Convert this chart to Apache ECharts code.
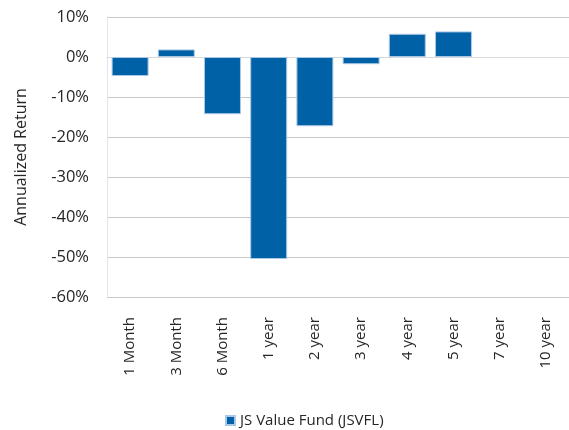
<!DOCTYPE html>
<html lang="en">
<head>
    <meta charset="UTF-8">
    <title>JS Value Fund annualized return</title>
    <script src="https://cdn.jsdelivr.net/npm/echarts@6/dist/echarts.min.js"></script>
    <style>
        html, body { margin: 0; padding: 0; background: #fff; }
        #main { width: 569px; height: 430px; }
    </style>
</head>
<body>
<div id="main"></div>
<script>
var periods = ['1 Month', '3 Month', '6 Month', '1 year', '2 year', '3 year', '4 year', '5 year', '7 year', '10 year'];
// 7 year and 10 year have no return yet, nothing is drawn for them
var fundReturns = [-4.75, 1.9, -14.3, -50.5, -17.3, -1.8, 5.8, 6.4, null, null];
var fundName = 'JS Value Fund (JSVFL)';

(function() {
    var chart = echarts.init(document.getElementById('main'));
    var font = 'Open Sans';

    var option = {
        animation: false,
        textStyle: { fontFamily: font },
        grid: {
            left: 107,
            top: 17,
            width: 466,
            height: 280
        },
        legend: {
            data: [fundName],
            left: 220,
            top: 408,
            icon: 'rect',
            itemWidth: 9,
            itemHeight: 9,
            itemGap: 4,
            textStyle: { fontFamily: font, fontSize: 15, color: '#262626' }
        },
        xAxis: [{
            type: 'category',
            data: periods,
            axisLine: { show: false, onZero: false },
            axisTick: { show: false },
            axisLabel: {
                rotate: 90,
                margin: 20,
                fontSize: 15,
                color: '#262626',
                fontFamily: font
            }
        }, {
            type: 'category',
            data: periods,
            position: 'bottom',
            axisLine: { onZero: true, lineStyle: { color: '#d9d9d9' } },
            axisTick: { length: 5, lineStyle: { color: '#c8c8c8' } },
            axisLabel: { show: false }
        }],
        yAxis: {
            type: 'value',
            min: -60,
            max: 10,
            interval: 10,
            name: 'Annualized Return',
            nameLocation: 'middle',
            nameGap: 78,
            nameTextStyle: { fontSize: 16, color: '#262626', fontFamily: font },
            axisLine: { show: true, lineStyle: { color: '#e6e6e6' } },
            axisTick: { show: false },
            axisLabel: {
                formatter: '{value}%',
                margin: 18,
                fontSize: 16.5,
                color: '#262626',
                fontFamily: font
            },
            splitLine: { lineStyle: { color: '#c8c8c8' } }
        },
        series: [{
            name: fundName,
            type: 'bar',
            xAxisIndex: 0,
            data: fundReturns,
            barCategoryGap: '20%',
            itemStyle: {
                color: '#0061a6',
                borderColor: '#a9c8e6',
                borderWidth: 1
            }
        }]
    };

    chart.setOption(option);
})();
</script>
</body>
</html>
